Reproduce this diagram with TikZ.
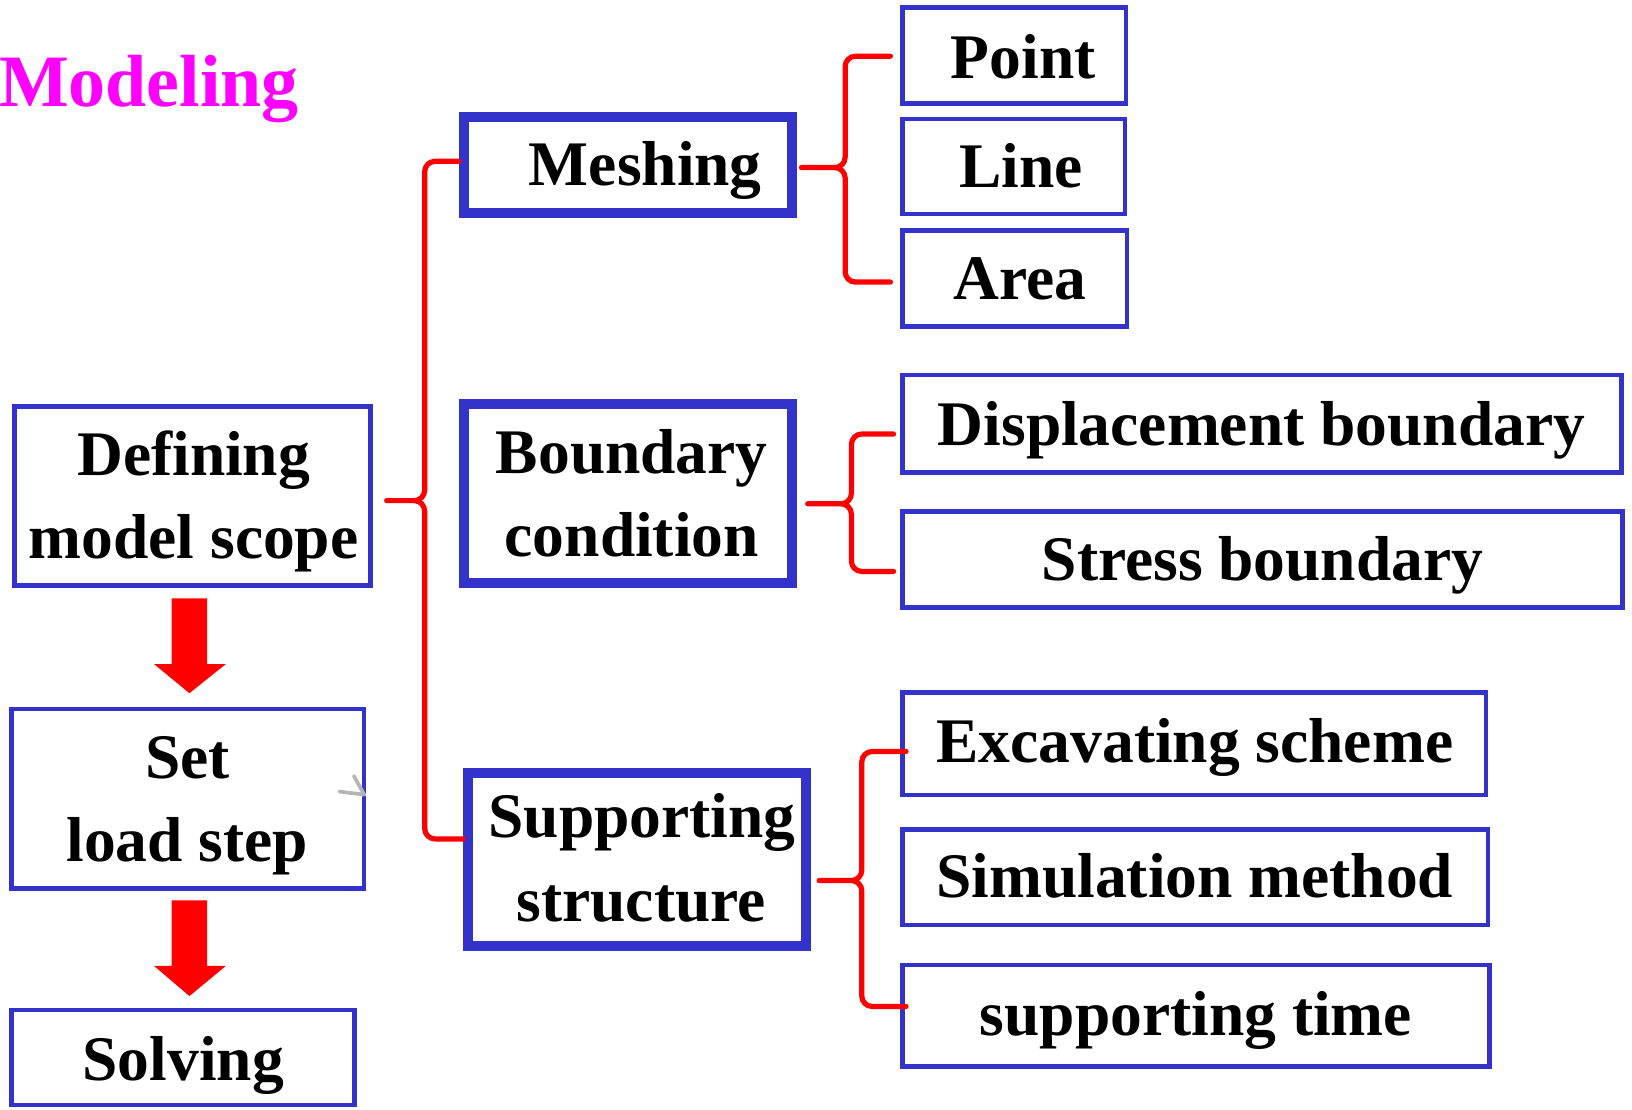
\documentclass[tikz,border=0pt]{standalone}
\usepackage{fontspec}
\setmainfont{Liberation Serif}
\usetikzlibrary{calc}
\definecolor{boxblue}{RGB}{51,51,204}
\definecolor{markgrey}{RGB}{180,180,180}
\definecolor{modmag}{RGB}{255,0,255}
\begin{document}
\begin{tikzpicture}[x=1pt,y=-1pt,
  thinbox/.style={draw=boxblue,line width=4.5pt,inner sep=0pt},
  thickbox/.style={draw=boxblue,line width=9.5pt,inner sep=0pt},
  lbl/.style={font=\fontsize{61}{70}\selectfont\bfseries,anchor=base,inner sep=0pt},
  brace/.style={draw=red,line width=5pt,rounded corners=10pt,line cap=round},
  blockarrow/.style={fill=red},
  greymark/.style={draw=markgrey,line width=3.5pt,line cap=round,line join=round}
]
\useasboundingbox (0,0) rectangle (1568,1066);

% title
\node[font=\fontsize{71}{80}\selectfont\bfseries,text=modmag,anchor=base west,inner sep=0pt] (title) at (-1,102) {Modeling};

% left column
\node[thinbox,minimum width=341.5pt,minimum height=172.5pt] (def) at (185,476.5) {};
\node[thinbox,minimum width=338.5pt,minimum height=172.5pt] (set) at (180.5,767.5) {};
\node[thinbox,minimum width=329.5pt,minimum height=91.5pt] (solv) at (176,1016) {};
\node[lbl] (tdef1) at (186,457) {Defining};
\node[lbl] (tdef2) at (186,537) {model scope};
\node[lbl] (tset1) at (180,748) {Set};
\node[lbl] (tset2) at (180,828) {load step};
\node[lbl] (tsolv) at (176,1038) {Solving};

% middle column
\node[thickbox,minimum width=315.5pt,minimum height=91.5pt] (mesh) at (603.5,158.5) {};
\node[thickbox,minimum width=315.5pt,minimum height=172.5pt] (bc) at (603.5,474) {};
\node[thickbox,minimum width=324.5pt,minimum height=166.5pt] (sup) at (612,826) {};
\node[lbl] (tmesh) at (620,178) {Meshing};
\node[lbl] (tbc1) at (607,455) {Boundary};
\node[lbl] (tbc2) at (607,535) {condition};
\node[lbl] (tsup1) at (617,805) {Supporting};
\node[lbl] (tsup2) at (616,885) {structure};

% right column
\node[thinbox,minimum width=214.5pt,minimum height=92.5pt] (pt) at (974.5,53.5) {};
\node[thinbox,minimum width=213.5pt,minimum height=91.5pt] (line) at (974,160) {};
\node[thinbox,minimum width=215.5pt,minimum height=92.5pt] (area) at (975,267.5) {};
\node[thinbox,minimum width=690.5pt,minimum height=93.5pt] (disp) at (1212.5,407) {};
\node[thinbox,minimum width=691.5pt,minimum height=92.5pt] (stress) at (1213,537.5) {};
\node[thinbox,minimum width=560.5pt,minimum height=98.5pt] (exc) at (1147.5,714.5) {};
\node[thinbox,minimum width=562.5pt,minimum height=91.5pt] (sim) at (1148.5,843) {};
\node[thinbox,minimum width=563.5pt,minimum height=97.5pt] (time) at (1149,976) {};
\node[lbl] (tpt) at (983,75) {Point};
\node[lbl] (tline) at (981,180) {Line};
\node[lbl] (tarea) at (980,288) {Area};
\node[lbl] (tdisp) at (1212,428) {Displacement boundary};
\node[lbl] (tstress) at (1213,558) {Stress boundary};
\node[lbl] (texc) at (1148,733) {Excavating scheme};
\node[lbl] (tsim) at (1148,862) {Simulation method};
\node[lbl] (ttime) at (1149,995) {supporting time};

% block arrows
\coordinate (a1) at ($(def.south)+(-3,10)$);
\coordinate (t1) at ($(set.north)+(1.5,-13)$);
\fill[blockarrow] ($(a1)+(-17,0)$) -- ($(a1)+(17,0)$) -- ($(a1)+(17,63)$) -- ($(a1)+(35,63)$) -- (t1) -- ($(a1)+(-34,63)$) -- ($(a1)+(-17,63)$) -- cycle;
\coordinate (a2) at ($(set.south)+(1.5,9)$);
\coordinate (t2) at ($(solv.north)+(6,-11)$);
\fill[blockarrow] ($(a2)+(-17,0)$) -- ($(a2)+(17,0)$) -- ($(a2)+(17,63)$) -- ($(a2)+(35,63)$) -- (t2) -- ($(a2)+(-34,63)$) -- ($(a2)+(-17,63)$) -- cycle;

% small grey mark
\draw[greymark] ($(set.east)+(-12,-22)$) -- ($(set.east)+(-2,-4)$) -- ($(set.east)+(-26,-7)$);

% main brace
\coordinate (b0s) at ($(def.east)+(13.5,4.5)$);
\coordinate (b0v) at (408,0);
\coordinate (b0t) at ($(mesh.west)+(0,-3.5)$);
\coordinate (b0b) at ($(sup.west)+(0,-20)$);
\draw[brace] (b0t) -- (b0t -| b0v) -- (b0s -| b0v) -- (b0s)
             (b0s) -- (b0s -| b0v) -- (b0b -| b0v) -- (b0b);

% meshing brace
\coordinate (b1s) at ($(mesh.east)+(4,2.5)$);
\coordinate (b1v) at (812,0);
\coordinate (b1t) at ($(pt.west)+(-9.5,0.5)$);
\coordinate (b1b) at ($(area.west)+(-9.5,3.5)$);
\draw[brace] (b1t) -- (b1t -| b1v) -- (b1s -| b1v) -- (b1s)
             (b1s) -- (b1s -| b1v) -- (b1b -| b1v) -- (b1b);

% boundary brace
\coordinate (b2s) at ($(bc.east)+(10,10)$);
\coordinate (b2v) at (818,0);
\coordinate (b2t) at ($(disp.west)+(-6.5,10)$);
\coordinate (b2b) at ($(stress.west)+(-6.5,11.5)$);
\draw[brace] (b2t) -- (b2t -| b2v) -- (b2s -| b2v) -- (b2s)
             (b2s) -- (b2s -| b2v) -- (b2b -| b2v) -- (b2b);

% supporting brace
\coordinate (b3s) at ($(sup.east)+(8,20)$);
\coordinate (b3v) at (828,0);
\coordinate (b3t) at ($(exc.west)+(5.5,7.5)$);
\coordinate (b3b) at ($(time.west)+(5.5,-9)$);
\draw[brace] (b3t) -- (b3t -| b3v) -- (b3s -| b3v) -- (b3s)
             (b3s) -- (b3s -| b3v) -- (b3b -| b3v) -- (b3b);
\end{tikzpicture}
\end{document}
